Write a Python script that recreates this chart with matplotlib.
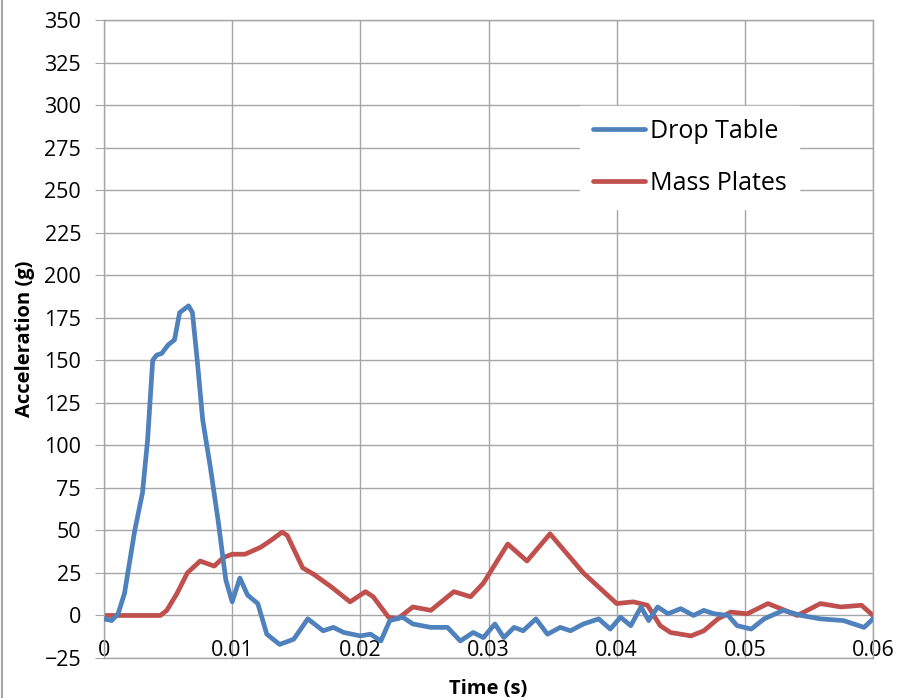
import matplotlib.pyplot as plt
from matplotlib.lines import Line2D

# values (time in s, acceleration in g)
t_drop = [0.0, 0.0006, 0.0011, 0.0016, 0.0024, 0.0030, 0.0034, 0.0038, 0.0041, 0.0045,
          0.0050, 0.0055, 0.0059, 0.0066, 0.0069, 0.0073, 0.0077, 0.0083, 0.0089, 0.0095,
          0.0100, 0.0106, 0.0112, 0.0120, 0.0127, 0.0137, 0.0148, 0.0159, 0.0171, 0.0179,
          0.0187, 0.0200, 0.0208, 0.0216, 0.0223, 0.0233, 0.0241, 0.0255, 0.0268, 0.0278,
          0.0288, 0.0296, 0.0305, 0.0312, 0.0320, 0.0327, 0.0337, 0.0346, 0.0356, 0.0364,
          0.0374, 0.0386, 0.0395, 0.0403, 0.0411, 0.0419, 0.0425, 0.0432, 0.0440, 0.0450,
          0.0460, 0.0468, 0.0476, 0.0487, 0.0494, 0.0505, 0.0515, 0.0530, 0.0544, 0.0559,
          0.0577, 0.0593, 0.0600]
a_drop = [-2, -3, 1, 13, 50, 72, 103, 150, 153, 154,
          159, 162, 178, 182, 178, 148, 115, 87, 56, 21,
          8, 22, 12, 7, -11, -17, -14, -2, -9, -7,
          -10, -12, -11, -15, -3, -1, -5, -7, -7, -15,
          -10, -13, -5, -13, -7, -9, -2, -11, -7, -9,
          -5, -2, -8, -1, -6, 5, -3, 5, 1, 4,
          0, 3, 1, 0, -6, -8, -2, 3, 0, -2,
          -3, -7, -2]

t_mass = [0.0, 0.0044, 0.0049, 0.0057, 0.0065, 0.0075, 0.0086, 0.0093, 0.0100, 0.0110,
          0.0122, 0.0130, 0.0139, 0.0143, 0.0155, 0.0164, 0.0177, 0.0192, 0.0204, 0.0210,
          0.0222, 0.0229, 0.0241, 0.0255, 0.0273, 0.0286, 0.0296, 0.0315, 0.0330, 0.0348,
          0.0374, 0.0387, 0.0400, 0.0413, 0.0424, 0.0434, 0.0442, 0.0458, 0.0468, 0.0479,
          0.0489, 0.0502, 0.0518, 0.0528, 0.0541, 0.0559, 0.0575, 0.0591, 0.0600]
a_mass = [0, 0, 3, 13, 25, 32, 29, 34, 36, 36,
          40, 44, 49, 47, 28, 24, 17, 8, 14, 11,
          -1, -2, 5, 3, 14, 11, 19, 42, 32, 48,
          25, 16, 7, 8, 6, -6, -10, -12, -9, -2,
          2, 1, 7, 4, 0, 7, 5, 6, 0]

x_ticks = [0, 0.01, 0.02, 0.03, 0.04, 0.05, 0.06]
x_labels = ['0', '0.01', '0.02', '0.03', '0.04', '0.05', '0.06']
y_ticks = list(range(-25, 351, 25))

blue = '#4F81BD'
red = '#C0504D'
grid_c = '#A6A6A6'

plt.rcParams['font.family'] = ['Open Sans', 'DejaVu Sans']

fig = plt.figure(figsize=(9.01, 6.98), dpi=100)
ax = fig.add_axes([104/901, 1 - 658/698, (873-104)/901, (658-20)/698])

ax.plot(t_drop, a_drop, color=blue, lw=3.4, solid_joinstyle='round', solid_capstyle='round',
        label='Drop Table', zorder=3)
ax.plot(t_mass, a_mass, color=red, lw=3.4, solid_joinstyle='round', solid_capstyle='round',
        label='Mass Plates', zorder=2)

ax.set_xlim(0, 0.06)
ax.set_ylim(-25, 350)
ax.set_xticks(x_ticks)
ax.set_xticklabels(x_labels)
ax.set_yticks(y_ticks)
ax.grid(True, color=grid_c, lw=1)
ax.set_axisbelow(True)
for s in ax.spines.values():
    s.set_color(grid_c)
    s.set_linewidth(1)

ax.tick_params(axis='y', direction='out', length=6.5, color=grid_c, labelsize=15.5, pad=10)
ax.tick_params(axis='x', length=0, labelsize=15.5, pad=-13)

ax.set_ylabel('Acceleration (g)', fontsize=14.5, fontweight='bold')
ax.yaxis.set_label_coords(-0.09, 0.5)
ax.set_xlabel('Time (s)', fontsize=14.5, fontweight='bold')
ax.xaxis.set_label_coords(0.5, -0.033)

leg = ax.legend(loc='upper left', bbox_to_anchor=((580-104)/769, (658-106)/638),
                fontsize=18, frameon=True, fancybox=False, handlelength=2.1,
                labelspacing=1.1, borderpad=0.5, handletextpad=0.2, borderaxespad=0)
leg.get_frame().set_edgecolor('white')
leg.get_frame().set_facecolor('white')
leg.get_frame().set_alpha(1)

# left border of the chart area
fig.add_artist(Line2D([2/901, 2/901], [0, 1], color=grid_c, lw=1.5))

fig.savefig('out.png', dpi=100)
